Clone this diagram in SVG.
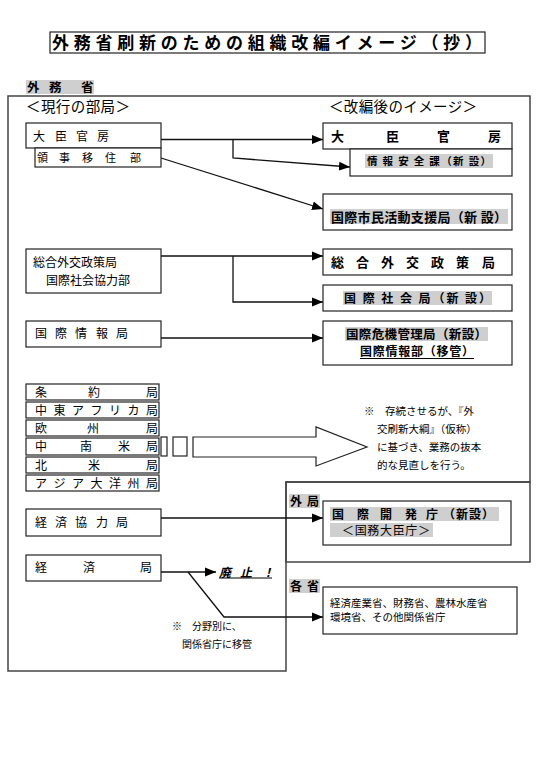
<svg xmlns="http://www.w3.org/2000/svg" width="539" height="781" viewBox="0 0 539 781">
<style>
text{font-family:"Noto Sans CJK JP","Noto Sans CJK SC",sans-serif;fill:#000}
.n{font-size:12px}
.s{font-size:10.5px}
.b{font-weight:bold}
.box{fill:#fff;stroke:#222;stroke-width:1.2}
.frame{fill:none;stroke:#444;stroke-width:1.5}
.hl{fill:#cfcfcf}
.c{fill:none;stroke:#111;stroke-width:1.3}
</style>
<defs>
<marker id="ah" markerUnits="userSpaceOnUse" markerWidth="12" markerHeight="10" refX="11" refY="5" orient="auto">
<path d="M0,0.5 L11,5 L0,9.5 Z" fill="#000"/>
</marker>
</defs>
<rect width="539" height="781" fill="#fff"/>

<g id="title">
<rect x="50" y="32" width="435" height="21" fill="#fff" stroke="#222" stroke-width="1.2"/>
<text x="52" y="49" font-size="17" font-weight="bold" textLength="430" lengthAdjust="spacing">外務省刷新のための組織改編イメージ（抄）</text>
</g>

<g id="frame">
<polygon class="frame" points="8,96 530,96 530,482 286,482 286,671 8,671"/>
<rect class="frame" x="286" y="482" width="244" height="80"/>
<rect class="hl" x="26" y="80" width="68" height="14"/>
<text class="b" font-size="12.5" x="27 49 81" y="91.5">外務省</text>
<text font-size="14.5" x="26" y="112" textLength="104" lengthAdjust="spacing">＜現行の部局＞</text>
<text font-size="14.5" x="329" y="112" textLength="148" lengthAdjust="spacing">＜改編後のイメージ＞</text>
<rect class="hl" x="289" y="494" width="31" height="14"/>
<text class="n b" x="290 307" y="505.6">外局</text>
<rect class="hl" x="289" y="579" width="31" height="14"/>
<text class="n b" x="290 307" y="590.6">各省</text>
</g>

<g id="connectors">
<path class="c" d="M161,139.5 H323" marker-end="url(#ah)"/>
<path class="c" d="M233,139.5 V158 L350,167" marker-end="url(#ah)"/>
<path class="c" d="M161,158 L323,209" marker-end="url(#ah)"/>
<path class="c" d="M161,256 H323" marker-end="url(#ah)"/>
<path class="c" d="M233,256 V302 H323" marker-end="url(#ah)"/>
<path class="c" d="M161,338 H323" marker-end="url(#ah)"/>
<path class="c" d="M161,518 H323" marker-end="url(#ah)"/>
<path class="c" d="M161,572 H216" marker-end="url(#ah)"/>
<path class="c" d="M188,572 L224,617 H323" marker-end="url(#ah)"/>
</g>

<g id="old-daijin">
<rect class="box" x="26" y="123" width="135" height="25"/>
<text class="n" x="33 55 76 97" y="140.6">大臣官房</text>
</g>
<g id="old-ryoji">
<rect class="box" x="35" y="148" width="126" height="19"/>
<text font-size="11" x="37 59 82 105 130" y="162">領事移住部</text>
</g>
<g id="old-sogo">
<rect class="box" x="26" y="249" width="135" height="44"/>
<text class="n" x="33" y="266.6">総合外交政策局</text>
<text class="n" x="46" y="284.6">国際社会協力部</text>
</g>
<g id="old-joho">
<rect class="box" x="26" y="321" width="135" height="26"/>
<text class="n" x="35 55 75 96 116" y="337.6">国際情報局</text>
</g>
<g id="old-list">
<rect class="box" x="26" y="384" width="133" height="16"/>
<text class="n" x="35 88 146" y="396.5">条約局</text>
<rect class="box" x="26" y="402" width="133" height="16"/>
<text class="n" x="35 53.5 72 90.5 109 127.5 146" y="414.5">中東アフリカ局</text>
<rect class="box" x="26" y="420" width="133" height="16"/>
<text class="n" x="35 87 146" y="432.5">欧州局</text>
<rect class="box" x="26" y="438" width="133" height="17"/>
<text class="n" x="35 80 118 146" y="451">中南米局</text>
<rect class="box" x="26" y="457" width="133" height="16"/>
<text class="n" x="35 88 146" y="469.5">北米局</text>
<rect class="box" x="26" y="475" width="133" height="16"/>
<text class="n" x="35 53.5 72 90.5 109 127.5 146" y="487.5">アジア大洋州局</text>
</g>
<g id="big-arrow">
<rect class="box" x="161" y="437" width="6" height="19"/>
<rect class="box" x="173" y="437" width="14" height="19"/>
<polygon class="box" points="193,437 316,437 316,427 367,447 316,466 316,457 193,457"/>
</g>
<g id="note1">
<text class="s" x="364" y="414.5">※　存続させるが、『外</text>
<text class="s" x="377" y="432.5">交刷新大綱』（仮称）</text>
<text class="s" x="377" y="451">に基づき、業務の抜本</text>
<text class="s" x="377" y="468.5">的な見直しを行う。</text>
</g>
<g id="old-keikyo">
<rect class="box" x="26" y="509" width="135" height="27"/>
<text class="n" x="35 55 75 96 116" y="526.6">経済協力局</text>
</g>
<g id="old-keizai">
<rect class="box" x="26" y="555" width="135" height="26"/>
<text class="n" x="35 83 140" y="571.6">経済局</text>
</g>
<g id="haishi">
<text class="n b" font-style="italic" x="219 240 262" y="576.5">廃止！</text>
<line x1="219" y1="578" x2="272" y2="578" stroke="#000" stroke-width="1.2"/>
</g>
<g id="note2">
<text font-size="10" x="172" y="630">※　分野別に、</text>
<text font-size="10" x="182" y="648">関係省庁に移管</text>
</g>

<g id="new-daijin">
<rect class="box" x="323" y="123" width="189" height="26"/>
<text class="b" font-size="13" x="331 386 437 488" y="141">大臣官房</text>
</g>
<g id="new-joho-anzen">
<rect class="box" x="350" y="149" width="162" height="27"/>
<rect class="hl" x="365" y="154" width="128" height="14"/>
<text class="s b" x="367" y="165" textLength="124" lengthAdjust="spacing">情 報 安 全 課（新 設）</text>
</g>
<g id="new-shimin">
<rect class="box" x="323" y="194" width="189" height="36"/>
<rect class="hl" x="330" y="209" width="178" height="15"/>
<text class="b" font-size="13" x="331" y="222" textLength="176" lengthAdjust="spacing">国際市民活動支援局（新 設）</text>
</g>
<g id="new-sogo">
<rect class="box" x="323" y="249" width="189" height="26"/>
<text class="b" font-size="13" x="331 356 381 406 431 456 482" y="267">総合外交政策局</text>
</g>
<g id="new-shakai">
<rect class="box" x="323" y="285" width="189" height="26"/>
<rect class="hl" x="343" y="291" width="149" height="14"/>
<text class="n b" x="344" y="302.6" textLength="147" lengthAdjust="spacing">国 際 社 会 局（新 設）</text>
</g>
<g id="new-kiki">
<rect class="box" x="323" y="321" width="189" height="44"/>
<rect class="hl" x="345" y="327" width="143" height="14"/>
<text class="b" font-size="12.5" x="346" y="338.5" textLength="141" lengthAdjust="spacing">国際危機管理局（新設）</text>
<text class="b" font-size="12" x="360" y="356" textLength="114" lengthAdjust="spacing">国際情報部（移管）</text>
<line x1="360" y1="358.5" x2="474" y2="358.5" stroke="#000" stroke-width="1.2"/>
</g>
<g id="new-kaihatsu">
<rect class="box" x="323" y="501" width="188" height="44"/>
<rect class="hl" x="330" y="507" width="169" height="14"/>
<rect class="hl" x="330" y="523" width="103" height="14"/>
<text class="b" font-size="12" x="332 357 380 405 426 443 456 469 482" y="518.5">国際開発庁（新設）</text>
<text font-size="12" x="342" y="534.5" textLength="88" lengthAdjust="spacing">＜国務大臣庁＞</text>
</g>
<g id="new-kakusho">
<rect class="box" x="323" y="587" width="194" height="47"/>
<text class="s" x="330" y="607">経済産業省、財務省、農林水産省</text>
<text class="s" x="330" y="621">環境省、その他関係省庁</text>
</g>
</svg>
